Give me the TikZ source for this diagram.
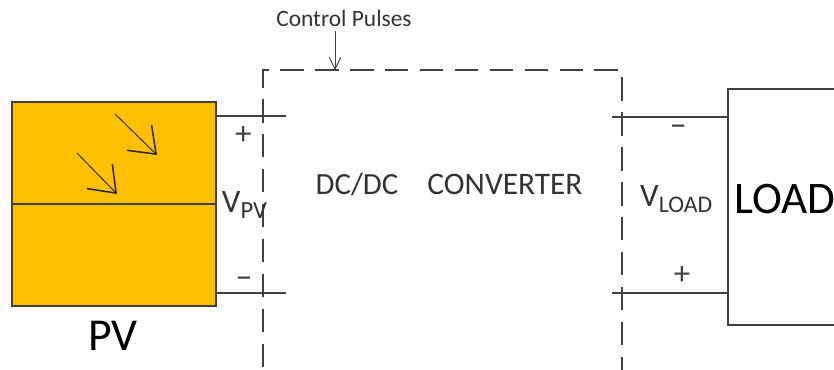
\documentclass[tikz,border=0pt]{standalone}
\usepackage{fontspec}
\setmainfont{Carlito}
\usetikzlibrary{arrows.meta}
\newcommand{\fs}[1]{\fontsize{#1}{#1}\selectfont}
\tikzset{
    wire/.style = {draw=black!75, line width=1pt},
    ray/.style = {draw=black!85, line width=0.8pt, -{Straight Barb[length=20pt,width=30pt,line width=1.3pt]}},
    pulse/.style = {draw=black!75, line width=0.8pt, -{Straight Barb[length=10pt,width=10pt]}},
    sign/.style = {text=black!75, inner sep=0pt},
    blocktext/.style = {text=black!80, inner sep=0pt},
}
\begin{document}
\begin{tikzpicture}
    \tikzstyle{every node} = [rectangle]
    \path[use as bounding box, clip] (0,0) rectangle (25.02,11.07);
    % blocks
    \node[draw=black!75, line width=1pt, fill={rgb,255:red,255;green,192;blue,0}, minimum width=6.12cm, minimum height=6.12cm, inner sep=0pt] (pv) at (3.42,4.95) {};
    \node[draw=black!75, line width=1pt, minimum width=5.16cm, minimum height=7.08cm, inner sep=0pt] (load) at (24.42,4.86) {};
    \node[draw=black!75, line width=1pt, dash pattern=on 20pt off 9.8pt, minimum width=10.77cm, minimum height=9.006cm, inner sep=0pt] (conv) at (13.275,4.467) {};
    % wire ends
    \coordinate (pvtopa) at (6.48,7.59);
    \coordinate (pvtopb) at (8.58,7.59);
    \coordinate (pvbota) at (6.48,2.28);
    \coordinate (pvbotb) at (8.58,2.28);
    \coordinate (loadtopa) at (18.36,7.56);
    \coordinate (loadtopb) at (21.84,7.56);
    \coordinate (loadbota) at (18.36,2.28);
    \coordinate (loadbotb) at (21.84,2.28);
    \foreach \from/\to in {pv.west/pv.east, pvtopa/pvtopb, pvbota/pvbotb, loadtopa/loadtopb, loadbota/loadbotb}
        \draw[wire] (\from) -- (\to);
    % sun rays
    \coordinate (rayas) at (3.45,7.65);
    \coordinate (rayae) at (4.71,6.42);
    \coordinate (raybs) at (2.31,6.48);
    \coordinate (raybe) at (3.51,5.25);
    \foreach \from/\to in {rayas/rayae, raybs/raybe}
        \draw[ray] (\from) -- (\to);
    % labels
    \node[blocktext] (pulses) at (10.32,10.52) {\fs{20}Control Pulses};
    \coordinate (pulsetip) at (10.05,8.97);
    \coordinate (pulsetail) at (10.05,10.14);
    \draw[pulse] (pulsetail) -- (pulsetip);
    \node[inner sep=0pt] (pvname) at (3.38,0.99) {\fs{39}PV};
    \node[blocktext, anchor=west] (vpv) at (6.65,4.92) {\fs{28}V\textsubscript{\fs{21}PV}};
    \node[blocktext] (dcdc) at (10.71,5.55) {\fs{26.3}DC/DC};
    \node[blocktext] (converter) at (15.15,5.55) {\fs{26.8}CONVERTER};
    \node[blocktext, anchor=west] (vload) at (19.2,5.1) {\fs{28}V\textsubscript{\fs{20.3}LOAD}};
    \node[inner sep=0pt, anchor=west] (loadname) at (22.02,5.1) {\fs{38.5}LOAD};
    \node[sign] (pvplus) at (7.3,7.0) {\fs{28}+};
    \node[sign] (pvminus) at (7.32,2.6) {\fs{28}−};
    \node[sign] (loadminus) at (20.35,7.16) {\fs{28}−};
    \node[sign] (loadplus) at (20.46,2.82) {\fs{28}+};
\end{tikzpicture}
\end{document}
